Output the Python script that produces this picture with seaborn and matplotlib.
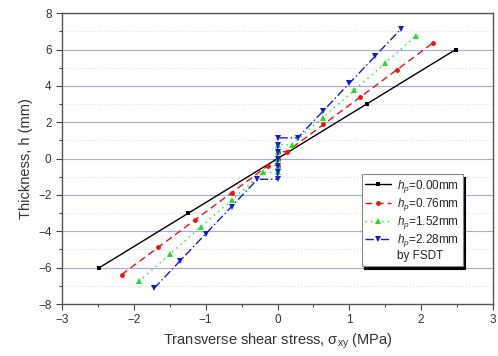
import numpy as np
import seaborn as sns
import matplotlib.pyplot as plt
from matplotlib.ticker import MultipleLocator
from matplotlib.lines import Line2D

# thickness h (mm) vs transverse shear stress (MPa), by FSDT
h_000 = [-6, -3, 0, 3, 6]
s_000 = [-2.48, -1.24, 0, 1.24, 2.48]

h_076 = [-6.38, -4.88, -3.38, -1.88, -0.38, -0.38, 0, 0.38, 0.38, 1.88, 3.38, 4.88, 6.38]
s_076 = [-2.17, -1.66, -1.15, -0.64, -0.13, 0, 0, 0, 0.13, 0.64, 1.15, 1.66, 2.17]

h_152 = [-6.76, -5.26, -3.76, -2.26, -0.76, -0.76, -0.38, 0, 0.38, 0.76, 0.76, 2.26, 3.76, 5.26, 6.76]
s_152 = [-1.93, -1.5, -1.07, -0.63, -0.2, 0, 0, 0, 0, 0, 0.2, 0.63, 1.07, 1.5, 1.93]

h_228 = [-7.14, -5.64, -4.14, -2.64, -1.14, -1.14, -0.76, -0.38, 0, 0.38, 0.76, 1.14, 1.14, 2.64, 4.14, 5.64, 7.14]
s_228 = [-1.72, -1.36, -1.0, -0.64, -0.28, 0, 0, 0, 0, 0, 0, 0, 0.28, 0.64, 1.0, 1.36, 1.72]

labels = [r"$h_p$=0.00mm", r"$h_p$=0.76mm", r"$h_p$=1.52mm", r"$h_p$=2.28mm"]

sns.set_theme(style="ticks")
plt.rcParams["font.family"] = ["Liberation Sans", "DejaVu Sans"]
plt.rcParams["mathtext.fontset"] = "custom"
plt.rcParams["mathtext.rm"] = "Liberation Sans"
plt.rcParams["mathtext.it"] = "Liberation Sans:italic"

fig = plt.figure(figsize=(4.98, 3.56), dpi=100)
ax = fig.add_axes([0.1245, 0.146, 0.8655, 0.817])

series = [
    (s_000, h_000, "black", "-", "s", 3.2),
    (s_076, h_076, "#ee1111", (0, (5, 3)), "o", 3.5),
    (s_152, h_152, "#22dd22", (0, (1, 3)), "^", 4.5),
    (s_228, h_228, "#1a1acc", (0, (6, 2, 1, 2)), "v", 4.5),
]
for (s, h, c, ls, m, ms), lab in zip(series, labels):
    sns.lineplot(x=s, y=h, sort=False, estimator=None, ax=ax, color=c,
                 linestyle=ls, linewidth=1.0, marker=m, markersize=ms,
                 markeredgewidth=0, label=lab)

ax.set_xlim(-3, 3)
ax.set_ylim(-8, 8)
ax.xaxis.set_major_locator(MultipleLocator(1))
ax.xaxis.set_minor_locator(MultipleLocator(0.5))
ax.yaxis.set_major_locator(MultipleLocator(2))
ax.yaxis.set_minor_locator(MultipleLocator(1))
ax.yaxis.grid(True, which="major", color="#a8a8e6", linewidth=0.8)
ax.yaxis.grid(True, which="minor", color="#dcdcee", linestyle=":", linewidth=0.8)
ax.xaxis.grid(False)
ax.tick_params(which="major", direction="out", length=4, width=0.8, colors="#444444",
               labelsize=8.5, labelcolor="#333333")
ax.tick_params(which="minor", direction="out", length=2.5, width=0.8, colors="#444444")
for sp in ax.spines.values():
    sp.set_color("#555555")
    sp.set_linewidth(1.0)

ax.set_xlabel(r"Transverse shear stress, $\mathregular{\sigma_{xy}}$ (MPa)",
              fontsize=10.5, color="#333333")
ax.set_ylabel("Thickness, h (mm)", fontsize=10.5, color="#333333")

handles, labs = ax.get_legend_handles_labels()
handles.append(Line2D([], [], color="none"))
labs.append("by FSDT")
leg = ax.legend(handles, labs, loc="upper left", bbox_to_anchor=(0.695, 0.447),
                borderaxespad=0, fontsize=8.5, frameon=True, fancybox=False,
                shadow={"color": "black", "alpha": 1}, edgecolor="#888888",
                handlelength=2.2, handletextpad=0.5, labelspacing=0.1,
                borderpad=0.3, framealpha=1)
leg.get_frame().set_linewidth(0.8)

fig.savefig("out.png", dpi=100)
